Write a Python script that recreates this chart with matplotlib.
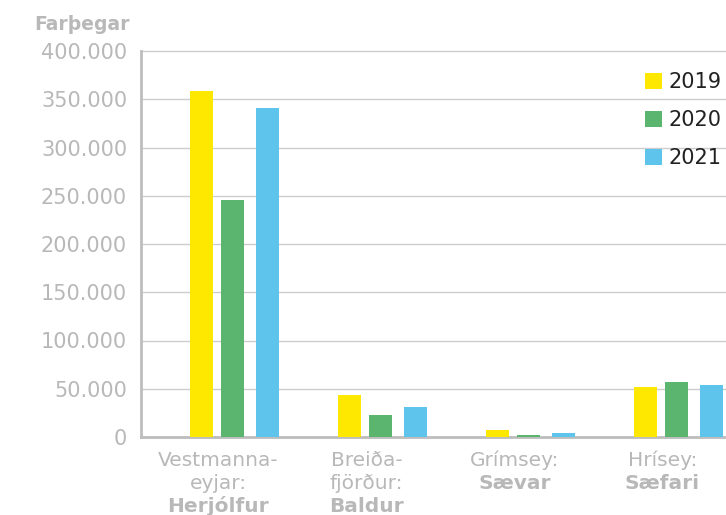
import matplotlib
matplotlib.use("Agg")
import matplotlib.pyplot as plt
from matplotlib.patches import Patch
from matplotlib.ticker import MultipleLocator, FuncFormatter
import numpy as np

# data
years = ["2019", "2020", "2021"]
colors = ["#FFE800", "#5BB56E", "#5EC4EC"]
label_lines = [["Vestmanna-", "eyjar:"], ["Breiða-", "fjörður:"], ["Grímsey:"], ["Hrísey:"]]
ferries = ["Herjólfur", "Baldur", "Sævar", "Sæfari"]
pax_2019 = [358500, 43500, 7300, 52000]
pax_2020 = [245600, 22800, 2200, 57000]
pax_2021 = [341000, 31000, 4200, 54000]
series = [pax_2019, pax_2020, pax_2021]

grey = "#B8B8B8"
plt.rcParams["font.family"] = "DejaVu Sans"

fig = plt.figure(figsize=(7.26, 5.15), dpi=100)
ax = fig.add_axes([141 / 726, 1 - 437 / 515, 585 / 726, 386 / 515])

x = np.arange(len(ferries))
offsets = [-0.21, 0.0, 0.235]
width = 0.155
for vals, off, c in zip(series, offsets, colors):
    ax.bar(x + off, vals, width=width, color=c, zorder=3)

ax.set_ylim(0, 400000)
ax.set_xlim(-0.618, 3.335)
ax.yaxis.set_major_locator(MultipleLocator(50000))
ax.yaxis.set_major_formatter(FuncFormatter(lambda v, p: f"{int(v):,}".replace(",", ".")))
ax.grid(axis="y", color="#CCCCCC", linewidth=1.0, zorder=0)
for g in ax.get_ygridlines():
    g.set_clip_on(False)

for s in ["top", "right"]:
    ax.spines[s].set_visible(False)
for s in ["left", "bottom"]:
    ax.spines[s].set_color("#BDBDBD")
    ax.spines[s].set_linewidth(2)

ax.tick_params(axis="y", length=0, pad=10, labelsize=15, labelcolor=grey)
ax.tick_params(axis="x", length=0, labelbottom=False)
ax.set_xticks(x)

# category labels: plain lines then bold ferry name
for i, (lines, name) in enumerate(zip(label_lines, ferries)):
    xc = i - 0.095
    for j, ln in enumerate(lines):
        ax.text(xc, -0.06 - j * 0.06, ln, transform=ax.get_xaxis_transform(),
                ha="center", va="center", fontsize=14.5, color=grey)
    ax.text(xc, -0.06 - len(lines) * 0.06, name, transform=ax.get_xaxis_transform(),
            ha="center", va="center", fontsize=14.5, color=grey, fontweight="bold")

fig.text(130 / 726, 1 - 25 / 515, "Farþegar", ha="right", va="center",
         fontsize=13.5, fontweight="bold", color=grey)

handles = [Patch(facecolor=c, edgecolor="none") for c in colors]
fig.legend(handles, years, loc="upper right", bbox_to_anchor=(1.008, 1 - 62 / 515),
           frameon=False, fontsize=15, handlelength=0.8, handleheight=0.8,
           handletextpad=0.3, labelspacing=0.85, borderpad=0, labelcolor="#222222")

fig.savefig("out.png", dpi=100)
